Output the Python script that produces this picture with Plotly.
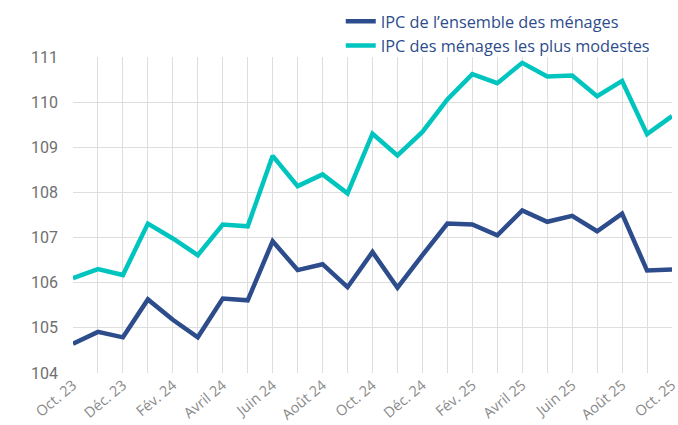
import plotly.graph_objects as go

months = ["Oct. 23", "Nov. 23", "Déc. 23", "Janv. 24", "Fév. 24", "Mars 24", "Avril 24", "Mai 24",
          "Juin 24", "Juil. 24", "Août 24", "Sept. 24", "Oct. 24", "Nov. 24", "Déc. 24", "Janv. 25",
          "Fév. 25", "Mars 25", "Avril 25", "Mai 25", "Juin 25", "Juil. 25", "Août 25", "Sept. 25", "Oct. 25"]

ipc_ensemble = [104.65, 104.91, 104.79, 105.63, 105.18, 104.79, 105.65, 105.61,
                106.92, 106.28, 106.41, 105.90, 106.68, 105.89, 106.61, 107.31,
                107.29, 107.05, 107.60, 107.35, 107.48, 107.14, 107.53, 106.27, 106.29]

ipc_modestes = [106.10, 106.30, 106.17, 107.31, 106.98, 106.61, 107.29, 107.25,
                108.81, 108.14, 108.40, 107.98, 109.30, 108.82, 109.34, 110.06,
                110.62, 110.42, 110.87, 110.57, 110.59, 110.13, 110.47, 109.29, 109.69]

tick_labels = [m if i % 2 == 0 else "" for i, m in enumerate(months)]
y_ticks = [104, 105, 106, 107, 108, 109, 110, 111]

navy = "#2D4C8C"
teal = "#00C5BF"

fig = go.Figure()
fig.add_trace(go.Scatter(x=list(range(len(months))), y=ipc_ensemble, mode="lines",
                         name="IPC de l’ensemble des ménages",
                         line=dict(color=navy, width=4.5), hoverinfo="skip", cliponaxis=False))
fig.add_trace(go.Scatter(x=list(range(len(months))), y=ipc_modestes, mode="lines",
                         name="IPC des ménages les plus modestes",
                         line=dict(color=teal, width=4.5), hoverinfo="skip", cliponaxis=False))

fig.update_layout(
    width=678, height=425,
    margin=dict(l=73, r=6, t=57, b=52, autoexpand=False),
    paper_bgcolor="white", plot_bgcolor="white",
    showlegend=True,
    legend=dict(x=0.447, y=0.99, xanchor="left", yanchor="top", xref="paper", yref="container",
                font=dict(family="Open Sans, sans-serif", size=16.3, color=navy),
                bgcolor="rgba(0,0,0,0)", tracegroupgap=0, itemwidth=30),
    font=dict(family="Open Sans, sans-serif"),
)

fig.update_xaxes(
    range=[0, len(months) - 1],
    tickmode="array", tickvals=list(range(len(months))), ticktext=tick_labels,
    tickangle=-40, ticklabeloverflow="allow", automargin=False,
    tickfont=dict(family="Open Sans, sans-serif", size=14.5, color="#8a8a8a"),
    showgrid=True, gridcolor="#DEDEDE", gridwidth=1,
    zeroline=False, showline=False, ticks="",
)
fig.update_yaxes(
    range=[104, 111], automargin=False,
    tickmode="array", tickvals=y_ticks, ticktext=[str(v) for v in y_ticks],
    tickfont=dict(family="Roboto, sans-serif", size=16, color="#707070"),
    showgrid=True, gridcolor="#DEDEDE", gridwidth=1,
    zeroline=False, showline=False, ticks="",
    ticklabelstandoff=14,
)

fig.write_html("out.html", config={"displayModeBar": False},
               post_script="document.body.style.margin='0';")
